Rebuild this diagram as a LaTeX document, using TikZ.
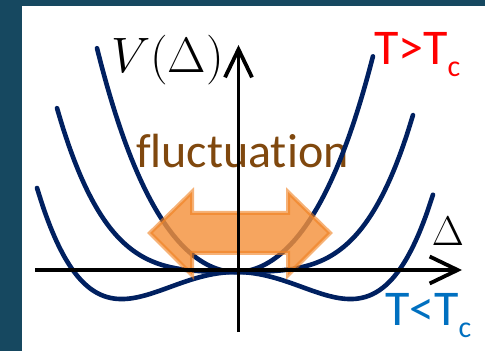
\documentclass[tikz,border=0pt]{standalone}
\usepackage{fontspec}
\setmainfont{Carlito}[Ligatures=CommonOff]
\usepackage{tikz}
\usetikzlibrary{arrows.meta, positioning}
\definecolor{framedark}{RGB}{22,72,96}
\definecolor{curvenavy}{RGB}{0,32,96}
\definecolor{fluctbrown}{RGB}{128,72,14}
\definecolor{arroworange}{RGB}{245,146,60}
\definecolor{arrowedge}{RGB}{240,128,30}
\definecolor{hotred}{RGB}{255,0,0}
\definecolor{coldblue}{RGB}{0,112,192}

\begin{document}
\begin{tikzpicture}[
    x=0.5pt, y=-0.5pt,
    every node/.style={inner sep=0pt, outer sep=0pt},
    axis/.style={line width=1.9pt, draw=black, -{Straight Barb[length=14pt, width=13.5pt]}},
    potential/.style={line width=2.3pt, draw=curvenavy, line cap=round, smooth, samples=60},
    fluctarrow/.style={fill=arroworange, fill opacity=0.82, draw=arrowedge, draw opacity=0.6, line width=2pt, line join=miter},
    templabel/.style={font=\fontsize{25}{30}\selectfont, anchor=base west}
]
\useasboundingbox (0,0) rectangle (485,351);

% Frame
\fill[framedark] (0,0) rectangle (485,351);
\fill[white] (22,6) rectangle (485,351);

% Label under the curves
\node[font=\fontsize{24}{28}\selectfont, text=fluctbrown, anchor=base west] (fluct) at (136,168) {fluctuation};

% Potentials V = a D^2 + b D^4
\draw[potential, domain=-1.39:1.37] plot ({236+100*\x},{272-(88*\x*\x+14.4*\x*\x*\x*\x)});
\draw[potential, domain=-1.79:1.77] plot ({236+100*\x},{272-(5*\x*\x+14.4*\x*\x*\x*\x)});
\draw[potential, domain=-1.99:1.97] plot ({236+100*\x},{272-(-41.35*\x*\x+15.8*\x*\x*\x*\x)});

% Fluctuation double arrow
\draw[fluctarrow] (150,233) -- (192,192) -- (192,213) -- (288,213) -- (288,192) -- (330,233)
    -- (288,275) -- (288,253) -- (192,253) -- (192,275) -- cycle;

% Axes
\coordinate (xstart) at (35,270);
\coordinate (xend) at (462,270);
\coordinate (ystart) at (238.5,332);
\coordinate (yend) at (238.5,45);
\draw[axis] (xstart) -- (xend);
\draw[axis] (ystart) -- (yend);

% Labels
\node[font=\fontsize{25}{30}\selectfont, anchor=base west] (vlab) at (111,73) {$V(\Delta)$};
\node[font=\fontsize{20}{24}\selectfont, anchor=base] (dlab) at (448,246) {$\Delta$};
\node[templabel, text=hotred] (hot) at (374,65) {T>T{\fontsize{15}{15}\selectfont\raisebox{-6pt}{c}}};
\node[templabel, text=coldblue] (cold) at (385,325) {T<T{\fontsize{15}{15}\selectfont\raisebox{-6pt}{c}}};

\end{tikzpicture}
\end{document}
